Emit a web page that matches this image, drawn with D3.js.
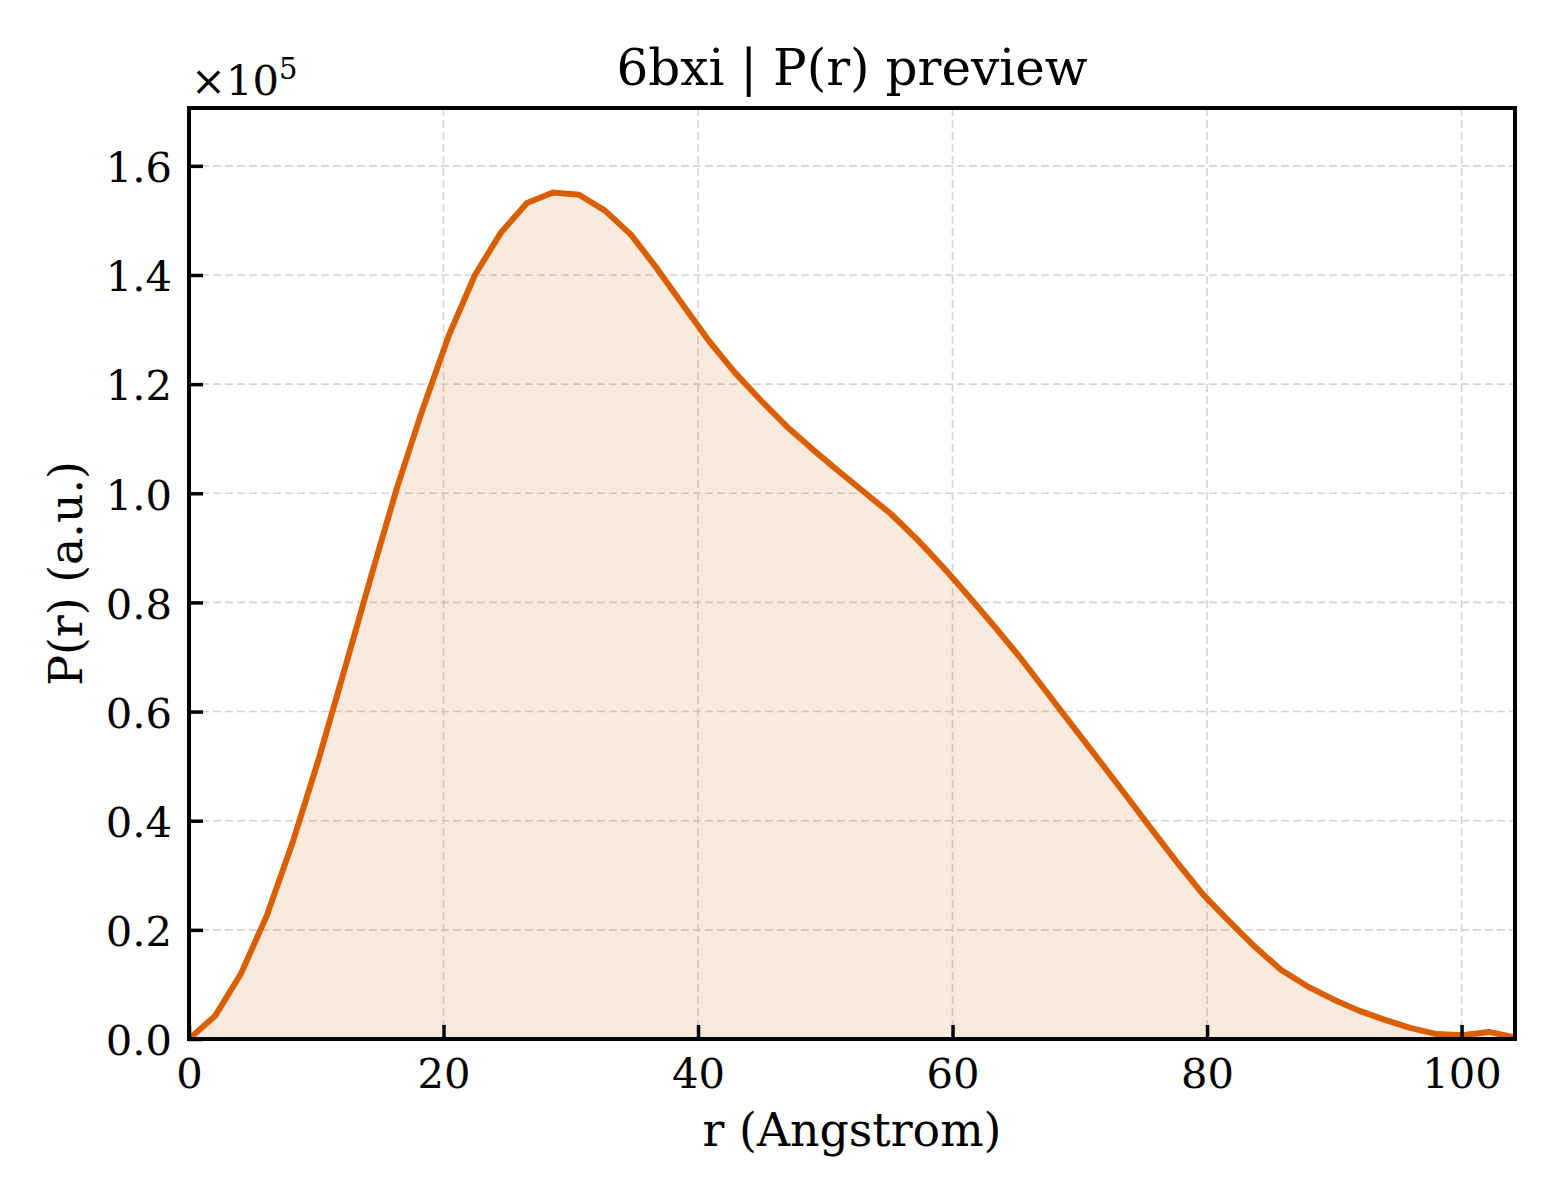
<!DOCTYPE html>
<html>
<head>
  <meta charset="UTF-8">
  <script src="https://cdn.jsdelivr.net/npm/d3@7"></script>
  <style>
    html, body { margin: 0; padding: 0; background: #fff; }
    text { font-family: "DejaVu Serif", serif; fill: #000; }
  </style>
</head>
<body>
<svg id="chart" width="1560" height="1200"></svg>
<script>
  var rValues = [0, 2.04, 4.09, 6.13, 8.17, 10.22, 12.26, 14.3, 16.34, 18.39,
    20.43, 22.47, 24.52, 26.56, 28.6, 30.65, 32.69, 34.73, 36.77, 38.82,
    40.86, 42.9, 44.95, 46.99, 49.03, 51.08, 53.12, 55.16, 57.2, 59.25,
    61.29, 63.33, 65.38, 67.42, 69.46, 71.51, 73.55, 75.59, 77.63, 79.68,
    81.72, 83.76, 85.8, 87.85, 89.89, 91.93, 93.98, 96.02, 98.06, 100.1,
    102.15, 104.2];

  var prValues = [0, 4200, 12000, 22700, 36200, 51500, 68000, 84700, 101000, 115600,
    129000, 140000, 147800, 153200, 155100, 154700, 151800, 147400, 141200, 134500,
    127900, 122100, 117000, 112200, 108000, 104000, 100100, 96200, 91600, 86500,
    81100, 75500, 69700, 63500, 57300, 51100, 44900, 38600, 32400, 26500,
    21600, 16900, 12700, 9700, 7300, 5200, 3500, 2000, 900, 700,
    1300, 300];

  var xTicks = [0, 20, 40, 60, 80, 100];
  var yTicks = [0, 20000, 40000, 60000, 80000, 100000, 120000, 140000, 160000];

  var titleText = "6bxi | P(r) preview";
  var xLabel = "r (Angstrom)";
  var yLabel = "P(r) (a.u.)";

  // plot box in pixels
  var margin = {top: 108, right: 45, bottom: 161, left: 189},
    width = 1560 - margin.left - margin.right,
    height = 1200 - margin.top - margin.bottom;

  var lineColor = "#d95f02";

  var svg = d3.select("#chart");
  var g = svg.append("g")
    .attr("transform", "translate(" + margin.left + "," + margin.top + ")");

  var x = d3.scaleLinear().domain([0, 104.2]).range([0, width]);
  var y = d3.scaleLinear().domain([0, 170600]).range([height, 0]);

  var data = rValues.map(function(r, i) { return {r: r, p: prValues[i]}; });

  // grid
  g.append("g").selectAll("line").data(xTicks.filter(function(d) { return d > 0; }))
    .enter().append("line")
    .attr("x1", function(d) { return x(d); }).attr("x2", function(d) { return x(d); })
    .attr("y1", 0).attr("y2", height)
    .attr("stroke", "#d4d4d4").attr("stroke-width", 1.6)
    .attr("stroke-dasharray", "8,4");

  g.append("g").selectAll("line").data(yTicks.filter(function(d) { return d > 0; }))
    .enter().append("line")
    .attr("y1", function(d) { return y(d); }).attr("y2", function(d) { return y(d); })
    .attr("x1", 0).attr("x2", width)
    .attr("stroke", "#d4d4d4").attr("stroke-width", 1.6)
    .attr("stroke-dasharray", "8,4");

  // fill under curve
  var area = d3.area()
    .x(function(d) { return x(d.r); })
    .y0(y(0))
    .y1(function(d) { return y(d.p); });

  g.append("path")
    .datum(data)
    .attr("d", area)
    .attr("fill", lineColor)
    .attr("fill-opacity", 0.13);

  var line = d3.line()
    .x(function(d) { return x(d.r); })
    .y(function(d) { return y(d.p); });

  g.append("path")
    .datum(data)
    .attr("d", line)
    .attr("fill", "none")
    .attr("stroke", lineColor)
    .attr("stroke-width", 6)
    .attr("stroke-linejoin", "round");

  // axes, ticks pointing inward
  var xAxis = g.append("g")
    .attr("transform", "translate(0," + height + ")")
    .call(d3.axisBottom(x).tickValues(xTicks).tickSize(-14).tickPadding(33)
      .tickFormat(d3.format("d")));

  var yAxis = g.append("g")
    .call(d3.axisLeft(y).tickValues(yTicks).tickSize(-14).tickPadding(17)
      .tickFormat(function(d) { return (d / 1e5).toFixed(1); }));

  [xAxis, yAxis].forEach(function(ax) {
    ax.select(".domain").remove();
    ax.selectAll(".tick line").attr("stroke", "#000").attr("stroke-width", 3.5);
    ax.selectAll(".tick text")
      .style("font-family", "DejaVu Serif")
      .style("font-size", "41.7px")
      .attr("fill", "#000");
  });
  xAxis.selectAll(".tick text").attr("dy", "0.71em").attr("y", 19);
  yAxis.selectAll(".tick text").attr("dy", "0.38em");

  // frame
  g.append("rect")
    .attr("x", 0).attr("y", 0)
    .attr("width", width).attr("height", height)
    .attr("fill", "none")
    .attr("stroke", "#000")
    .attr("stroke-width", 4);

  // offset text
  var off = svg.append("text")
    .attr("x", 191).attr("y", 95)
    .style("font-size", "41.7px");
  off.append("tspan").text("\u00d710");
  off.append("tspan").attr("dy", -16).style("font-size", "29px").text("5");

  // title and labels
  svg.append("text")
    .attr("x", margin.left + width / 2).attr("y", 85)
    .attr("text-anchor", "middle")
    .style("font-size", "50px")
    .text(titleText);

  svg.append("text")
    .attr("x", margin.left + width / 2).attr("y", 1146)
    .attr("text-anchor", "middle")
    .style("font-size", "45.8px")
    .text(xLabel);

  svg.append("text")
    .attr("transform", "translate(82," + (margin.top + height / 2) + ") rotate(-90)")
    .attr("text-anchor", "middle")
    .style("font-size", "45.8px")
    .text(yLabel);
</script>
</body>
</html>
